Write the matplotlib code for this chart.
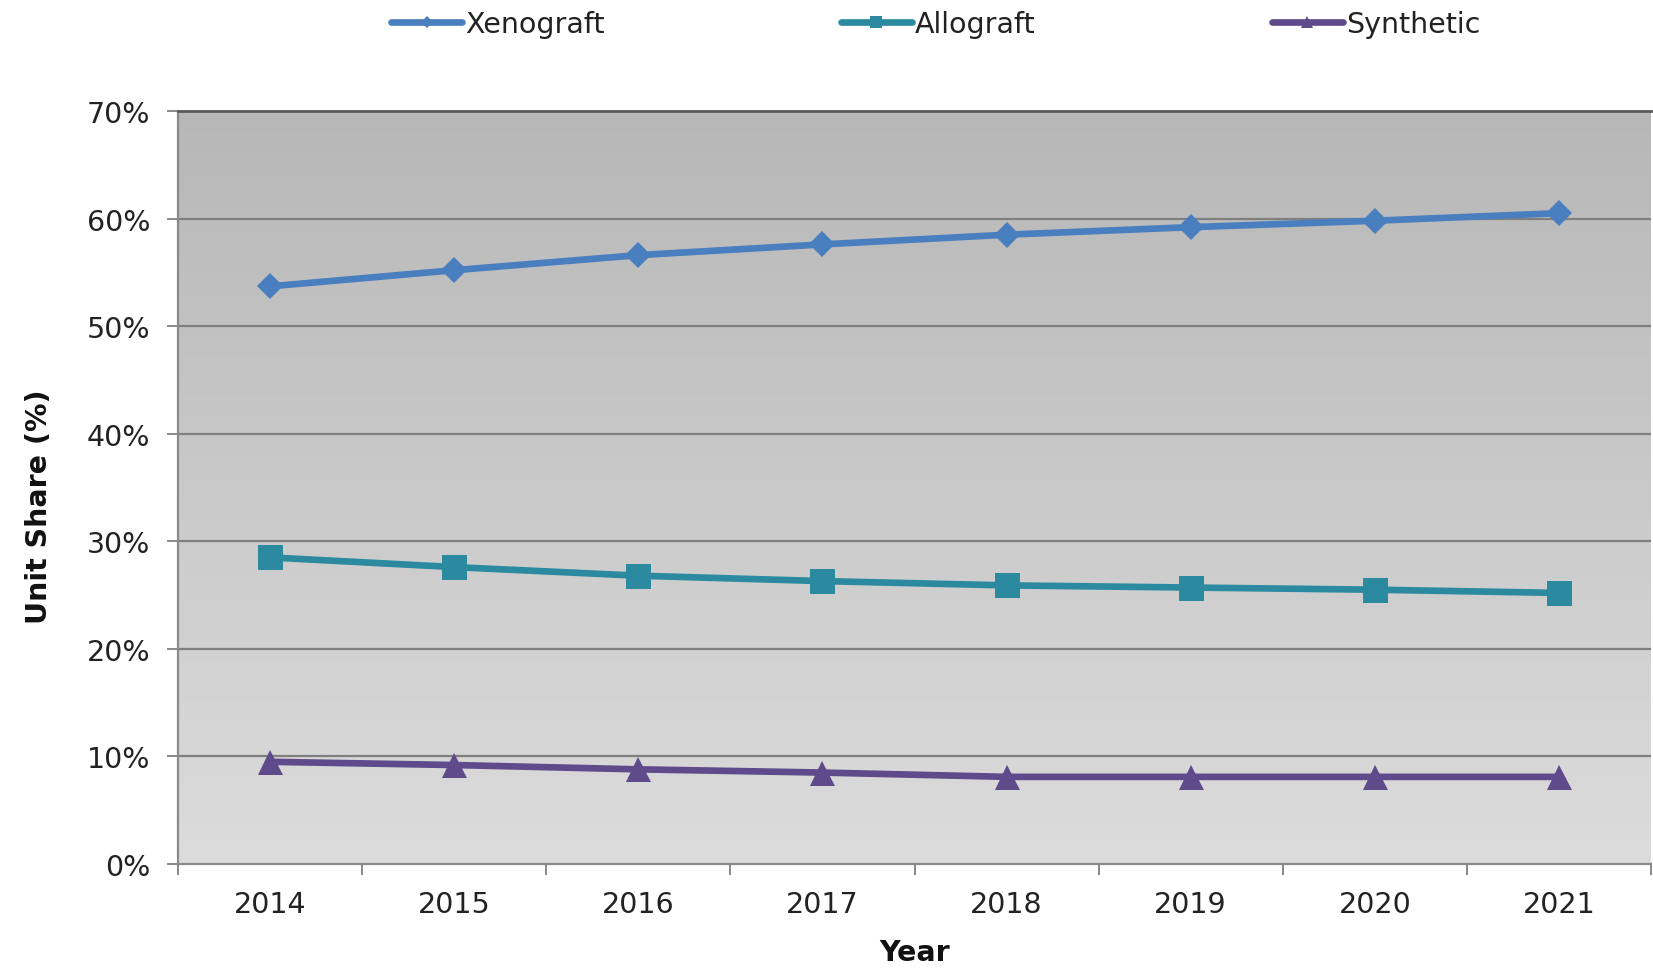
import numpy as np
import matplotlib
matplotlib.use("Agg")
import matplotlib.pyplot as plt
from matplotlib.ticker import FixedLocator, FuncFormatter, NullFormatter

plt.rcParams['font.family'] = ['DejaVu Sans']

# Unit share by graft type (%)
years = ["2014", "2015", "2016", "2017", "2018", "2019", "2020", "2021"]
xenograft = [53.7, 55.2, 56.6, 57.6, 58.5, 59.2, 59.8, 60.5]
allograft = [28.5, 27.6, 26.8, 26.3, 25.9, 25.7, 25.5, 25.2]
synthetic = [9.5, 9.2, 8.8, 8.5, 8.1, 8.1, 8.1, 8.1]
y_ticks = [0, 10, 20, 30, 40, 50, 60, 70]

series = [
    ("Xenograft", xenograft, "#4a7fbf", "D", 13.5),
    ("Allograft", allograft, "#2b8aa0", "s", 18),
    ("Synthetic", synthetic, "#5f4a8b", "^", 18),
]

fig = plt.figure(figsize=(16.53, 9.70), dpi=100)
ax = fig.add_axes([178 / 1653, 1 - 865 / 970, (1651 - 178) / 1653, (865 - 112) / 970])

n = len(years)
ax.set_xlim(0, n)
ax.set_ylim(0, 70)

# vertical grey gradient behind the plot area
grad = np.linspace(0, 1, 256).reshape(-1, 1)
ax.imshow(grad, extent=[0, n, 0, 70], aspect='auto', origin='lower',
          cmap=matplotlib.colors.LinearSegmentedColormap.from_list(
              "bg", ["#dcdcdc", "#b7b7b7"]), zorder=0)

for v in y_ticks[1:-1]:
    ax.axhline(v, color="#7f7f7f", lw=1.6, zorder=1)

xc = np.arange(n) + 0.5
handles = []
for name, vals, col, mk, ms in series:
    h, = ax.plot(xc, vals, color=col, lw=4.8, marker=mk, markersize=ms,
                 markeredgewidth=0, label=name, zorder=3, solid_capstyle='round')
    handles.append(h)

# category boundaries carry the tick marks, labels sit at the centres
ax.xaxis.set_major_locator(FixedLocator(np.arange(n + 1)))
ax.xaxis.set_major_formatter(NullFormatter())
ax.xaxis.set_minor_locator(FixedLocator(xc))
ax.xaxis.set_minor_formatter(FuncFormatter(lambda x, p: years[int(x)]))
ax.tick_params(axis='x', which='major', direction='out', length=8, width=1.3, color="#808080")
ax.tick_params(axis='x', which='minor', length=0, pad=19, labelsize=20.5, labelcolor="#222222")

ax.set_yticks(y_ticks)
ax.set_yticklabels([f"{v}%" for v in y_ticks])
ax.tick_params(axis='y', direction='out', length=8, width=1.3, color="#808080",
               pad=12, labelsize=20.5, labelcolor="#222222")

for side in ["left", "bottom"]:
    ax.spines[side].set_color("#8a8a8a")
    ax.spines[side].set_linewidth(1.6)
ax.spines["top"].set_color("#5a5a5a")
ax.spines["top"].set_linewidth(2.0)
ax.spines["right"].set_visible(False)

ax.set_xlabel("Year", fontsize=20.5, fontweight='bold', color="#111111")
ax.xaxis.set_label_coords(0.5, -(939 - 865) / (865 - 112))
ax.set_ylabel("Unit Share (%)", fontsize=20.5, fontweight='bold', color="#111111")
ax.yaxis.set_label_coords(-(178 - 53) / (1651 - 178), (865 - 507) / (865 - 112))

leg = fig.legend(handles=handles, loc='center', bbox_to_anchor=(0.566, 1 - 25 / 970),
                 ncol=3, frameon=False, fontsize=20.5, handlelength=2.5,
                 handletextpad=0.1, columnspacing=8.3, markerscale=0.45)
for t in leg.get_texts():
    t.set_color("#222222")

fig.savefig("out.png", dpi=100)
